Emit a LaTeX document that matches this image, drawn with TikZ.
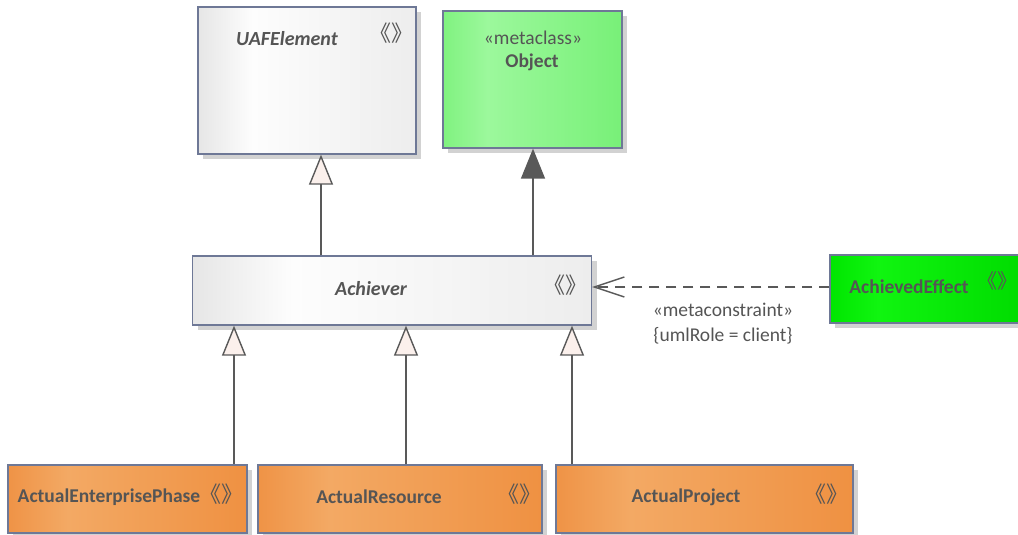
\documentclass[tikz,border=0pt]{standalone}
\usepackage{fontspec}
\setmainfont{Carlito}
\newfontfamily\cjk{Noto Sans CJK SC}
\usetikzlibrary{arrows.meta,shadows}
\definecolor{txt}{HTML}{555555}
\definecolor{bord}{HTML}{6E7896}
\definecolor{shad}{HTML}{D2D2D2}
\definecolor{lnc}{HTML}{595959}
\definecolor{trif}{HTML}{FBF0EC}
\definecolor{gA}{HTML}{E6E6E6}\definecolor{gB}{HTML}{FDFDFD}\definecolor{gC}{HTML}{EDEDED}
\definecolor{lA}{HTML}{80F280}\definecolor{lB}{HTML}{9CF89C}\definecolor{lC}{HTML}{78F078}
\definecolor{eA}{HTML}{00E600}\definecolor{eB}{HTML}{10F510}\definecolor{eC}{HTML}{00DC00}
\definecolor{oA}{HTML}{EF9346}\definecolor{oB}{HTML}{F3A964}\definecolor{oC}{HTML}{EF9142}
\pgfdeclarehorizontalshading{grayfill}{100bp}{color(0bp)=(gA); color(25bp)=(gA); color(37.5bp)=(gB); color(75bp)=(gC); color(100bp)=(gC)}
\pgfdeclarehorizontalshading{lgreenfill}{100bp}{color(0bp)=(lA); color(25bp)=(lA); color(37.5bp)=(lB); color(75bp)=(lC); color(100bp)=(lC)}
\pgfdeclarehorizontalshading{greenfill}{100bp}{color(0bp)=(eA); color(25bp)=(eA); color(37.5bp)=(eB); color(75bp)=(eC); color(100bp)=(eC)}
\pgfdeclarehorizontalshading{orangefill}{100bp}{color(0bp)=(oA); color(25bp)=(oA); color(37.5bp)=(oB); color(75bp)=(oC); color(100bp)=(oC)}
\newcommand{\stereoicon}{\kern-7pt《》\kern-7pt}
\tikzset{
  box/.style={draw=bord, line width=1.3pt, rectangle, inner sep=0pt,
    drop shadow={shadow xshift=5pt, shadow yshift=-5pt, fill=shad, opacity=1, draw=none}},
  graybox/.style={box, shading=grayfill},
  lgreenbox/.style={box, shading=lgreenfill},
  greenbox/.style={box, shading=greenfill},
  orangebox/.style={box, shading=orangefill},
  lbl/.style={text=txt, inner sep=0pt, font=\fontsize{19.5}{22}\selectfont\bfseries},
  ilbl/.style={lbl, font=\fontsize{20}{22}\selectfont\bfseries\itshape},
  plain/.style={text=txt, inner sep=0pt, font=\fontsize{19.5}{25}\selectfont},
  icon/.style={text=txt, inner sep=0pt, font=\cjk\fontsize{22}{22}\selectfont},
  gen/.style={draw=lnc, line width=1.4pt, -{Triangle[length=30pt,width=24pt,fill=trif]}},
  genf/.style={draw=lnc, line width=1.4pt, -{Triangle[length=30pt,width=24pt,fill=lnc]}},
  dep/.style={draw=lnc, line width=1.4pt, dash pattern=on 10pt off 7pt, -{Straight Barb[length=30pt,width=20pt]}}
}
\begin{document}
\begin{tikzpicture}[x=1pt,y=-1pt]
\useasboundingbox (0,0) rectangle (1018,535);
% boxes
\node[graybox, minimum width=218pt, minimum height=147pt] (uaf) at (307,80.5) {};
\node[lgreenbox, minimum width=179pt, minimum height=137pt] (obj) at (532.5,79.5) {};
\node[graybox, minimum width=399pt, minimum height=69pt] (ach) at (392,290.5) {};
\node[greenbox, minimum width=192pt, minimum height=68pt] (eff) at (926,289) {};
\node[orangebox, minimum width=239pt, minimum height=68pt] (aep) at (127.5,499) {};
\node[orangebox, minimum width=284pt, minimum height=68pt] (ar) at (400,499) {};
\node[orangebox, minimum width=297pt, minimum height=68pt] (ap) at (704.5,499) {};
% texts
\node[ilbl] (tuaf) at (287,39) {UAFElement};
\node[icon] (iuaf) at (391,33) {\stereoicon};
\node[plain] (tobjs) at (533,38) {«metaclass»};
\node[lbl] (tobj) at (532,62) {Object};
\node[ilbl] (tach) at (371,289) {Achiever};
\node[icon] (iach) at (565,285) {\stereoicon};
\node[lbl] (teff) at (909,287) {AchievedEffect};
\node[icon, font=\cjk\fontsize{20}{20}\selectfont] (ieff) at (997,281) {\stereoicon};
\node[lbl] (taep) at (109,497) {ActualEnterprisePhase};
\node[icon] (iaep) at (221,494) {\stereoicon};
\node[lbl] (tar) at (379,497) {ActualResource};
\node[icon] (iar) at (519,494) {\stereoicon};
\node[lbl] (tap) at (686,497) {ActualProject};
\node[icon] (iap) at (826,494) {\stereoicon};
% connectors
\draw[gen] (ach.north -| 321,0) -- (uaf.south -| 321,0);
\draw[genf] (ach.north -| 533,0) -- (obj.south -| 533,0);
\draw[gen] (aep.north -| 234,0) -- (ach.south -| 234,0);
\draw[gen] (ar.north -| 406,0) -- (ach.south -| 406,0);
\draw[gen] (ap.north -| 572,0) -- (ach.south -| 572,0);
\draw[dep] (eff.west |- 0,287) -- (ach.east |- 0,287);
\node[plain, align=center, anchor=north] (dl) at (723,303) {«metaconstraint»\\{\{umlRole = client\}}};
\end{tikzpicture}
\end{document}
